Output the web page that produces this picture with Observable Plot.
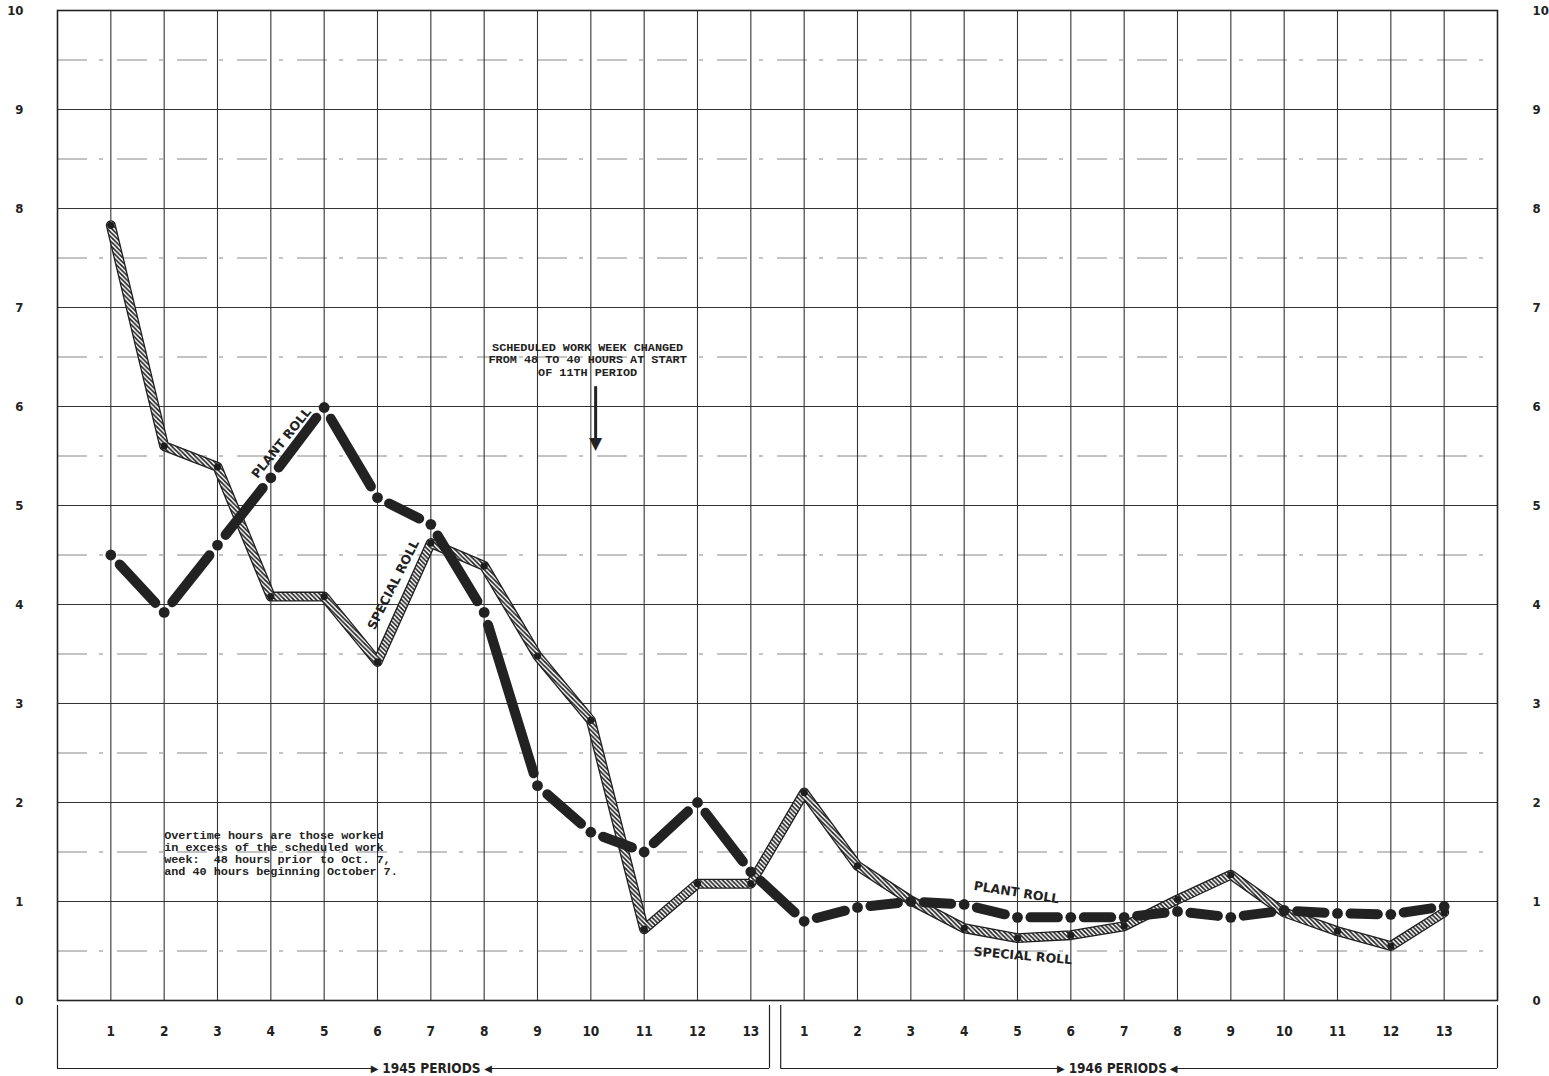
<!DOCTYPE html>
<html><head><meta charset="utf-8">
<script src="https://cdn.jsdelivr.net/npm/d3@7"></script>
<script src="https://cdn.jsdelivr.net/npm/@observablehq/plot@0.6"></script>
<style>
html,body{margin:0;padding:0;background:#fff;overflow:hidden;}
#chart svg{display:block;}
</style></head><body>
<svg width="0" height="0" style="position:absolute">
<defs>
<pattern id="hatch" patternUnits="userSpaceOnUse" width="4.5" height="4.5">
<rect width="4.5" height="4.5" fill="#fff"/>
<path d="M-1,-1 L5.5,5.5 M-1,3.5 L1,5.5 M3.5,-1 L5.5,1" stroke="#1e1e1e" stroke-width="1.6"/>
</pattern>
</defs></svg>
<div id="chart"></div>
<script>
// ---- data ----
const periodLabels = [1,2,3,4,5,6,7,8,9,10,11,12,13];
const years = ["1945", "1946"];
const plant1945   = [4.5, 3.92, 4.6, 5.28, 5.99, 5.08, 4.81, 3.92, 2.17, 1.7, 1.5, 2.0, 1.3];
const plant1946   = [0.8, 0.94, 1.0, 0.97, 0.84, 0.84, 0.84, 0.9, 0.84, 0.91, 0.88, 0.87, 0.95];
const special1945 = [7.83, 5.6, 5.39, 4.08, 4.08, 3.42, 4.62, 4.39, 3.48, 2.83, 0.72, 1.18, 1.18];
const special1946 = [2.1, 1.36, 1.01, 0.73, 0.63, 0.66, 0.75, 1.02, 1.27, 0.89, 0.70, 0.55, 0.89];
const yTicks = [0,1,2,3,4,5,6,7,8,9,10];
const halfTicks = [0.5,1.5,2.5,3.5,4.5,5.5,6.5,7.5,8.5,9.5];

const noteText = "Overtime hours are those worked\nin excess of the scheduled work\nweek:  48 hours prior to Oct. 7,\nand 40 hours beginning October 7.";
const calloutText = "SCHEDULED WORK WEEK CHANGED\nFROM 48 TO 40 HOURS AT START\nOF 11TH PERIOD";

// annotation placement (chart units)
const seriesLabels = [
  {text: "PLANT ROLL", x: 4.2, y: 5.63, rotate: -51},
  {text: "SPECIAL ROLL", x: 6.3, y: 4.2, rotate: -63},
  {text: "PLANT ROLL", x: 17.98, y: 1.09, rotate: 9},
  {text: "SPECIAL ROLL", x: 18.1, y: 0.45, rotate: 5}
];
const brackets = [
  {label: "1945 PERIODS", left: 0, right: 13.35, headL: 5.96, headR: 8.06, mid: 7.01},
  {label: "1946 PERIODS", left: 13.56, right: 27, headL: 18.83, headR: 20.91, mid: 19.88}
];
const bracketTop = -0.05, bracketBottom = -0.687;
const callout = {x: 10.09, top: 6.2, tip: 5.6, text: 9.94, textY: 6.475};

// ---- derived tables ----
const n = periodLabels.length;
const tIndex = d3.range(1, 2 * n + 1);
const plantPts = [...plant1945, ...plant1946].map((v, i) => ({t: i + 1, v}));
const specialPts = [...special1945, ...special1946].map((v, i) => ({t: i + 1, v}));
const plantSegs = d3.pairs(plantPts).map(([a, b]) => ({x1: a.t, y1: a.v, x2: b.t, y2: b.v}));

const sans = "'Liberation Sans Narrow', 'DejaVu Sans Condensed', 'Liberation Sans', sans-serif";
const wide = "'DejaVu Sans', 'Liberation Sans', sans-serif";
const mono = "'Liberation Mono', 'DejaVu Sans Mono', monospace";
const ink = "#222";

const chart = Plot.plot({
  width: 1549,
  height: 1076,
  marginLeft: 57,
  marginRight: 52,
  marginTop: 10,
  marginBottom: 76,
  style: {background: "#fff", fontFamily: sans, color: ink},
  x: {domain: [0, 2 * n + 1], axis: null},
  y: {domain: [0, 10], axis: null},
  marks: [
    // grid
    Plot.ruleY(halfTicks, {stroke: "#555", strokeWidth: 1, strokeDasharray: "30 12 4 14", strokeOpacity: 0.7}),
    Plot.ruleY(yTicks.slice(1, -1), {stroke: "#333", strokeWidth: 1.1}),
    Plot.ruleX(tIndex, {y1: 0, y2: 10, stroke: "#333", strokeWidth: 1.1}),
    Plot.frame({stroke: "#222", strokeWidth: 1.6}),
    // axes
    Plot.axisY({anchor: "left", ticks: yTicks, tickSize: 0, tickPadding: 34, fontSize: 13, fontWeight: "bold", label: null}),
    Plot.axisY({anchor: "right", ticks: yTicks, tickSize: 0, tickPadding: 35, fontSize: 13, fontWeight: "bold", label: null}),
    Plot.axisX({ticks: tIndex, tickFormat: d => periodLabels[(d - 1) % n], tickSize: 0, tickPadding: 26, fontSize: 13.5, fontWeight: "bold", label: null}),
    // period brackets
    Plot.ruleX(brackets, {x: "left", y1: bracketTop, y2: bracketBottom, stroke: ink, strokeWidth: 1.2}),
    Plot.ruleX(brackets, {x: "right", y1: bracketTop, y2: bracketBottom, stroke: ink, strokeWidth: 1.2}),
    Plot.ruleY(brackets, {x1: "left", x2: "headL", y: bracketBottom, stroke: ink, strokeWidth: 1.2}),
    Plot.ruleY(brackets, {x1: "right", x2: "headR", y: bracketBottom, stroke: ink, strokeWidth: 1.2}),
    Plot.text(brackets, {x: "headL", y: bracketBottom, text: () => "\u25B6", textAnchor: "end", fontFamily: wide, fontSize: 10, dx: 3, fill: ink}),
    Plot.text(brackets, {x: "headR", y: bracketBottom, text: () => "\u25C0", textAnchor: "start", fontFamily: wide, fontSize: 10, dx: -3, fill: ink}),
    Plot.text(brackets, {x: "mid", y: bracketBottom, text: "label", fontSize: 13.5, fontWeight: "bold", fill: ink}),
    // special roll: hatched band
    Plot.line(specialPts, {x: "t", y: "v", stroke: "#1e1e1e", strokeWidth: 10, strokeLinejoin: "round"}),
    Plot.line(specialPts, {x: "t", y: "v", stroke: "url(#hatch)", strokeWidth: 7.4, strokeLinejoin: "round"}),
    Plot.dot(specialPts, {x: "t", y: "v", r: 3.6, fill: "#1e1e1e"}),
    // plant roll: heavy broken line
    Plot.arrow(plantSegs, {x1: "x1", y1: "y1", x2: "x2", y2: "y2", stroke: ink, strokeWidth: 10, headLength: 0, insetStart: 13, insetEnd: 13, strokeLinecap: "round"}),
    Plot.dot(plantPts, {x: "t", y: "v", r: 5.4, fill: ink}),
    // series labels
    Plot.text(seriesLabels, {x: "x", y: "y", text: "text", rotate: "rotate", fontFamily: wide, fontSize: 12.5, fontWeight: 600, fill: ink}),
    // notes
    Plot.text([noteText], {x: 2.0, y: 1.488, text: d => d, textAnchor: "start", lineAnchor: "middle", lineHeight: 1.02, fontFamily: mono, fontSize: 11.8, fontWeight: "bold", fill: ink}),
    Plot.text([calloutText], {x: callout.text, y: callout.textY, text: d => d, textAnchor: "middle", lineAnchor: "middle", lineHeight: 1.06, fontFamily: mono, fontSize: 11.8, fontWeight: "bold", fill: ink}),
    Plot.ruleX([callout], {x: "x", y1: "top", y2: "tip", stroke: ink, strokeWidth: 3}),
    Plot.text([callout], {x: "x", y: "tip", text: () => "\u25BC", lineAnchor: "bottom", dy: 3, fontFamily: wide, fontSize: 17, fill: ink})
  ]
});
document.getElementById("chart").appendChild(chart);
</script>
</body></html>
